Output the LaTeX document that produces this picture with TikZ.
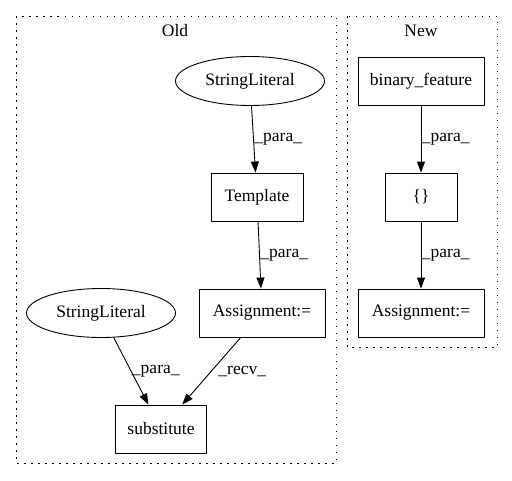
\documentclass[tikz,border=0pt]{standalone}
\usepackage{fontspec}
\setmainfont{Liberation Serif}
\usetikzlibrary{arrows.meta, shapes}
\tikzset{
	box/.style={draw, rectangle, line width=0.9pt, minimum height=48pt, inner sep=2pt},
	literal/.style={draw, ellipse, line width=0.9pt, minimum width=149pt, minimum height=49pt, inner sep=0pt},
	flow/.style={line width=0.9pt, -{Triangle[length=11pt,width=8pt]}},
	elabel/.style={anchor=west, inner sep=0.5pt},
	cluster/.style={line width=1pt, dash pattern=on 1.5pt off 5.5pt}
}

\begin{document}
\begin{tikzpicture}[x=1pt,y=-1pt,line join=round,font=\fontsize{17.5}{20}\selectfont]
		\useasboundingbox (0,0) rectangle (512,480);
		\begin{scope}
		% clusters
		\draw[cluster] (16,16) rectangle (336,463);
		\node (oldtitle) at (175,31) {Old};
		\draw[cluster] (347,16) rectangle (497,347);
		\node (newtitle) at (421,31) {New};
		% old
		\node[literal] (lit1)  at (250,81)  {StringLiteral};
		\node[box, minimum width=92pt]  (tmpl)  at (257,197) {Template};
		\node[box, minimum width=126pt] (asg1)  at (262,313) {Assignment:=};
		\node[literal] (lit2)  at (101,313) {StringLiteral};
		\node[box, minimum width=91pt]  (subst) at (161,429) {substitute};
		% new
		\node[box, minimum width=126pt] (feat)  at (421,81)  {binary\_feature};
		\node[box, minimum width=72pt]  (dict)  at (421,197) {\{\}};
		\node[box, minimum width=126pt] (asg2)  at (421,313) {Assignment:=};
		\draw[flow] (lit1) -- (tmpl)  node[midway, elabel] {\_para\_};
		\draw[flow] (tmpl) -- (asg1)  node[midway, elabel] {\_para\_};
		\draw[flow] (lit2) -- (subst) node[midway, elabel] {\_para\_};
		\draw[flow] (asg1) -- (subst) node[midway, elabel, xshift=6pt] {\_recv\_};
		\draw[flow] (feat) -- (dict)  node[midway, elabel] {\_para\_};
		\draw[flow] (dict) -- (asg2)  node[midway, elabel] {\_para\_};
		\end{scope}
	\end{tikzpicture}
\end{document}
